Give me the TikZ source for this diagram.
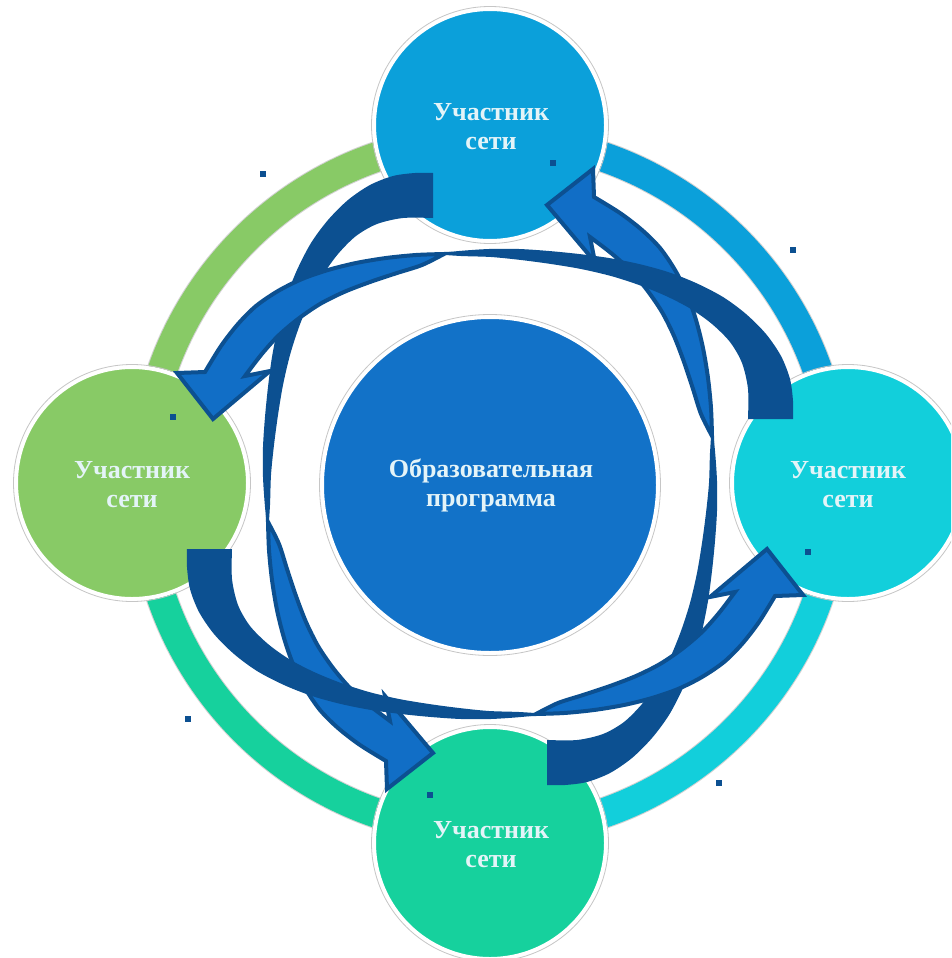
\documentclass[tikz,border=0pt]{standalone}
\usepackage{fontspec}
\setmainfont{Liberation Serif}
\definecolor{cTop}{RGB}{11,160,218}
\definecolor{cRight}{RGB}{18,207,219}
\definecolor{cBot}{RGB}{22,209,157}
\definecolor{cLeft}{RGB}{136,202,102}
\definecolor{cCenter}{RGB}{18,114,200}
\definecolor{cDark}{RGB}{12,80,145}
\definecolor{cLight}{RGB}{17,110,198}
\definecolor{cText}{RGB}{228,244,248}
\tikzset{
  member/.style={circle, draw=white, line width=4, minimum size=232, inner sep=0},
  label/.style={text=cText, align=center, font=\fontsize{26}{29}\selectfont\bfseries},
  ringpart/.style={line width=29.5},
  dot/.style={fill=cDark},
  backband/.style={fill=cDark},
  frontarrow/.style={fill=cLight, draw=cDark, line width=4, line join=miter},
}
\newcommand\myribbon{%
  \path[backband] plot[smooth] coordinates {(433,173) (415,173) (393,176) (370,185) (348,200) (328,220) (311,243) (297,270) (286,298) (278,327) (272,357) (268,387) (265,417) (263,447) (263,477) (265,507) (268,535)}
   -- plot[smooth] coordinates {(268,535) (270,505) (271,475) (274,445) (278,415) (283,385) (290,355) (299,327) (310,300) (323,275) (338,254) (356,236) (377,224) (403,218) (433,218)} -- cycle;
  \path[frontarrow] plot[smooth] coordinates {(268,522) (269,550) (272,580) (277,610) (284,638) (293,664) (305,688) (320,710) (338,728) (360,745) (386,761)}
   -- (387,789) -- (433,753) -- (385,696)
   -- plot[smooth] coordinates {(390,721) (369,705) (350,688) (333,668) (318,646) (306,622) (296,596) (287,569) (279,544) (268,522)} -- cycle;
}
\begin{document}
\begin{tikzpicture}[x=1pt,y=-1pt]
\useasboundingbox (0,0) rectangle (951,958);
\clip (0,0) rectangle (951,958);
\fill[white] (0,0) rectangle (951,958);
% ring
\coordinate (c) at (490,485);
\draw[gray!35, line width=31.5] (c) circle (347);
\draw[ringpart, cRight] (c) ++(0:347) arc[start angle=0, end angle=90, radius=347];
\draw[ringpart, cBot] (c) ++(90:347) arc[start angle=90, end angle=180, radius=347];
\draw[ringpart, cLeft] (c) ++(180:347) arc[start angle=180, end angle=270, radius=347];
\draw[ringpart, cTop] (c) ++(270:347) arc[start angle=270, end angle=360, radius=347];
% circles
\node[member, fill=cTop] (top) at (490,125) {};
\node[member, fill=cLeft] (left) at (132,483) {};
\node[member, fill=cRight] (right) at (848,483) {};
\node[member, fill=cBot] (bottom) at (490,843) {};
\node[member, fill=cCenter, minimum size=336] (center) at (490,485) {};
\foreach \n/\r in {top/118.5, left/118.5, right/118.5, bottom/118.5, center/170.5}
  \draw[gray!45, line width=0.8] (\n.center) circle (\r);
\node[label] (ttop) at (491,127) {Участник\\сети};
\node[label] (tleft) at (132,485) {Участник\\сети};
\node[label] (tright) at (848,485) {Участник\\сети};
\node[label] (tbot) at (491,845) {Участник\\сети};
\node[label] (tcenter) at (491,485) {Образовательная\\программа};
% arrows
\begin{scope}[shift={(490,485)}, rotate=0, shift={(-490,-485)}] \myribbon \end{scope}
\begin{scope}[shift={(490,473)}, rotate=180, shift={(-490,-485)}] \myribbon \end{scope}
\begin{scope}[shift={(499,492)}, rotate=90, shift={(-490,-485)}] \myribbon \end{scope}
\begin{scope}[shift={(481,476)}, rotate=270, shift={(-490,-485)}] \myribbon \end{scope}
% small squares
\foreach \x/\y in {263/174, 553/163, 793/250, 173/417, 808/552, 188/719, 430/795, 719/783}
  \fill[dot] (\x-3,\y-3) rectangle +(6,6);
\end{tikzpicture}
\end{document}
